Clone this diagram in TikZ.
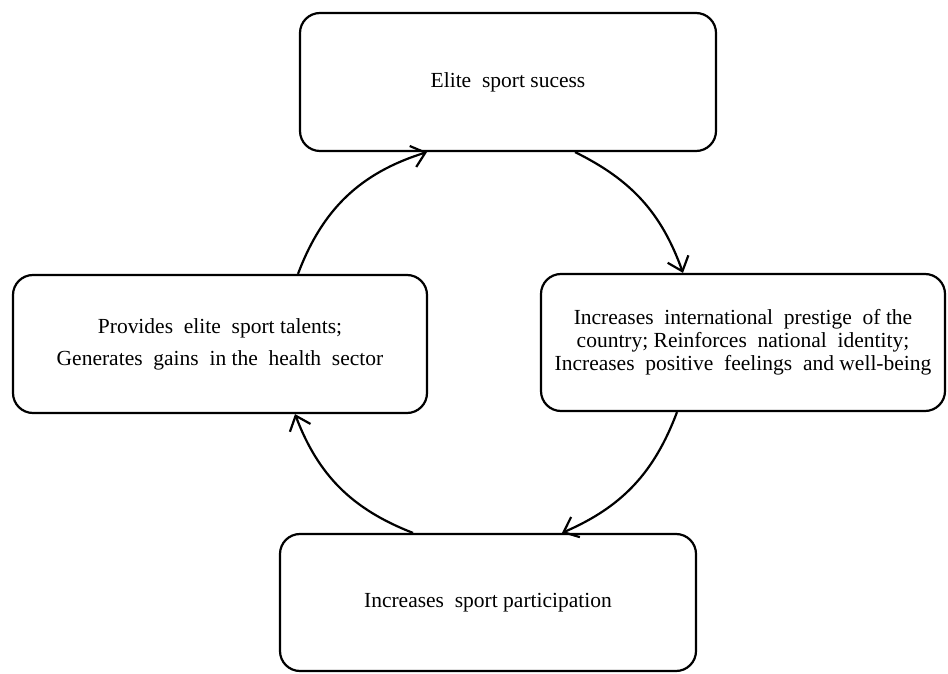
\documentclass[tikz,border=0pt]{standalone}
\usepackage{fontspec}
\setmainfont{Liberation Serif}
\usetikzlibrary{arrows.meta,calc}
\begin{document}
\begin{tikzpicture}[x=1pt,y=1pt,
  box/.style={draw, line width=2.2pt, rounded corners=20pt, align=center, inner sep=0pt},
  loose/.style={font=\fontsize{21.5}{32}\selectfont},
  tight/.style={font=\fontsize{21.5}{23}\selectfont},
  link/.style={line width=2.2pt, -{Straight Barb[length=13pt,width=22pt,line width=2.2pt]}}]
\useasboundingbox (0,0) rectangle (948,673);
\node[box, loose, minimum width=416pt, minimum height=138pt] (top) at (508,591) {Elite\ \ sport sucess};
\node[box, loose, minimum width=414pt, minimum height=138pt] (left) at (220,329) {Provides\ \ elite\ \ sport talents;\\Generates\ \ gains\ \ in the\ \ health\ \ sector};
\node[box, tight, minimum width=404pt, minimum height=137pt] (right) at (743,330.5) {Increases\ \ international\ \ prestige\ \ of the\\country;\ Reinforces\ \ national\ \ identity;\\Increases\ \ positive\ \ feelings\ \ and well-being};
\node[box, loose, minimum width=416pt, minimum height=137pt] (bottom) at (488,70.5) {Increases\ \ sport participation};
\draw[link] ($(left.north)+(78,0)$) to[bend left=26] ($(top.south)+(-81,0)$);
\draw[link] ($(top.south)+(67,0)$) to[bend left=22] ($(right.north)+(-60,0)$);
\draw[link] ($(right.south)+(-66,0)$) to[bend left=23] ($(bottom.north)+(74,0)$);
\draw[link] ($(bottom.north)+(-75,0)$) to[bend left=24] ($(left.south)+(75,0)$);
\end{tikzpicture}
\end{document}
